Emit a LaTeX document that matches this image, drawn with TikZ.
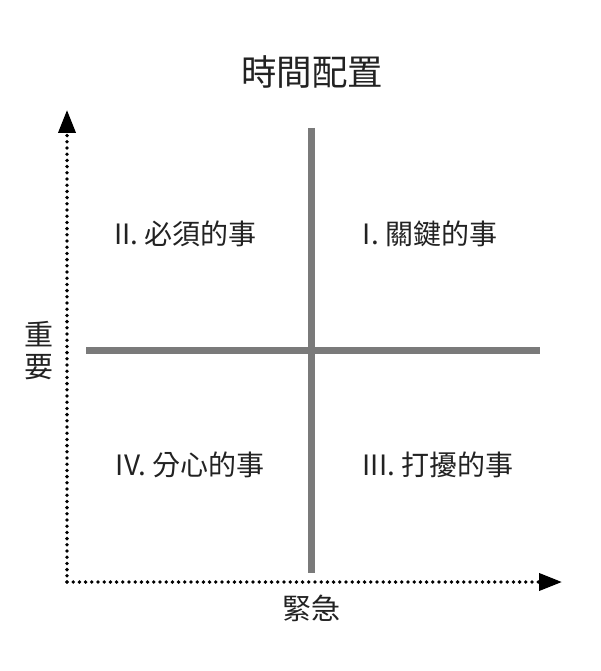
\documentclass[tikz,border=0pt]{standalone}
\usepackage{fontspec}
\setmainfont{Noto Sans CJK TC}
\usetikzlibrary{arrows.meta}
\definecolor{txt}{HTML}{222222}
\definecolor{grid}{HTML}{7A7A7A}
\tikzset{
  axisline/.style={line width=3.8pt, line cap=round, dash pattern=on 0pt off 6.2pt, black,
    -{Triangle[length=23pt,width=17pt]}},
  gridline/.style={line width=7pt, grid},
  quad/.style={text=txt, font=\fontsize{28}{32}\selectfont, inner sep=0pt},
  axlab/.style={text=txt, font=\fontsize{29}{31}\selectfont, inner sep=0pt},
  ttl/.style={text=txt, font=\fontsize{35.5}{40}\selectfont, inner sep=0pt}
}
\begin{document}
\begin{tikzpicture}[x=1pt,y=1pt]
\useasboundingbox (0,0) rectangle (600,-671);
\fill[white] (0,0) rectangle (600,-671);
% title
\node[ttl] (title) at (312,-72) {時間配置};
% grid lines
\coordinate (vtop) at (311.5,-128);
\coordinate (vbot) at (311.5,-573);
\coordinate (hl) at (86,-350.5);
\coordinate (hr) at (540,-350.5);
\draw[gridline] (vtop) -- (vbot);
\draw[gridline] (hl) -- (hr);
% axes
\coordinate (origin) at (67,-582);
\coordinate (ytip) at (67,-110);
\coordinate (xtip) at (562,-582);
\draw[axisline] (origin) -- (ytip);
\draw[axisline] (origin) -- (xtip);
% quadrant labels
\node[quad] (q2) at (185.5,-234) {II. 必須的事};
\node[quad] (q1) at (430,-234) {I. 關鍵的事};
\node[quad] (q4) at (190,-465) {IV. 分心的事};
\node[quad] (q3) at (438,-465) {III. 打擾的事};
% axis labels
\node[axlab, align=center] (ylab) at (38.5,-351) {重\\[1pt]要};
\node[axlab] (xlab) at (311.5,-608) {緊急};
\end{tikzpicture}
\end{document}
